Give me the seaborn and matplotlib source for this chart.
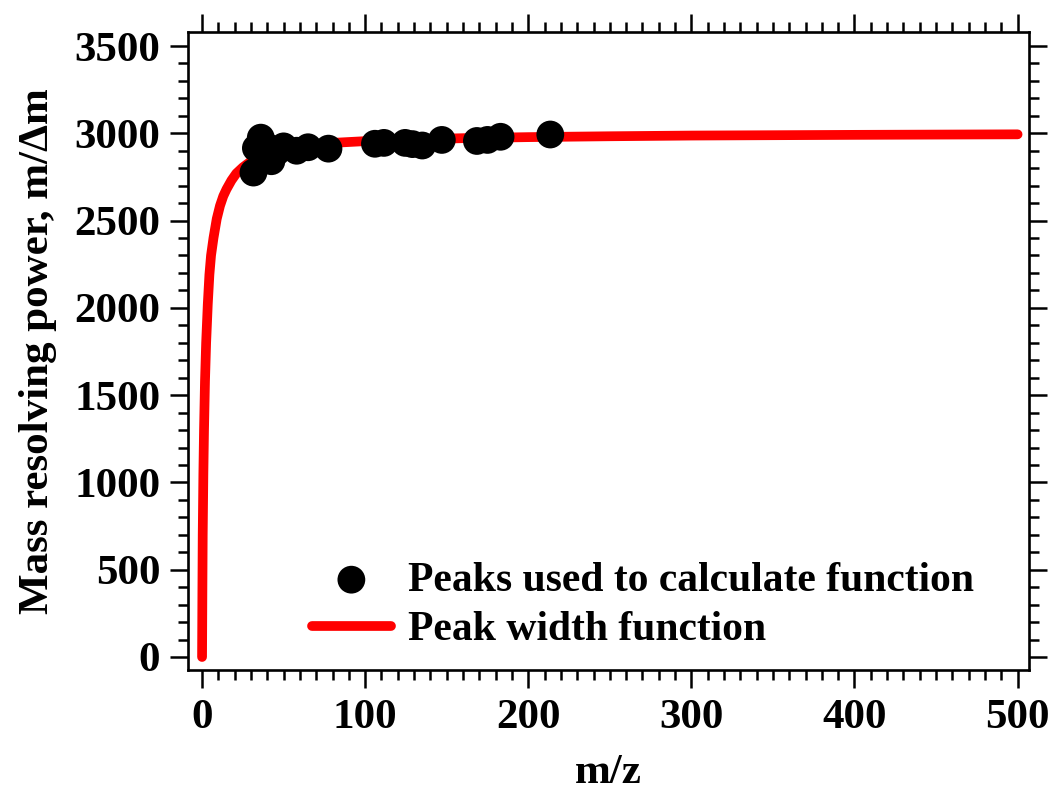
import pandas as pd
import matplotlib
matplotlib.use('Agg')
import matplotlib.pyplot as plt
from matplotlib.ticker import MultipleLocator
import seaborn as sns

# Peaks used to calculate the function (m/z, resolving power)
peak_mz = [31.5, 33, 36, 40.5, 42.5, 46, 50, 58, 65, 77.5,
           106, 111.5, 124.5, 129, 135, 147, 168.5, 175, 183, 213.5]
peak_rp = [2775, 2915, 2975, 2920, 2840, 2895, 2925, 2900, 2920, 2912,
           2940, 2945, 2945, 2938, 2930, 2962, 2956, 2962, 2980, 2993]

# Peak width function
func_mz = [0, 0.2, 0.4, 0.8, 1.2, 1.8, 2.5, 3.5, 4.5, 5.5, 7, 9, 11, 13, 15,
           18, 21, 25, 30, 35, 40, 50, 60, 80, 100, 130, 160, 200, 250, 300,
           400, 500]
func_rp = [0, 380, 700, 1050, 1300, 1580, 1800, 2020, 2190, 2300, 2400, 2510,
           2585, 2640, 2680, 2730, 2770, 2805, 2840, 2865, 2885, 2910, 2925,
           2945, 2955, 2965, 2972, 2978, 2983, 2987, 2991, 2994]

peaks = pd.DataFrame({'mz': peak_mz, 'rp': peak_rp})
func = pd.DataFrame({'mz': func_mz, 'rp': func_rp})

sns.set_style('ticks')
plt.rcParams['font.family'] = ['Liberation Serif', 'DejaVu Serif']
plt.rcParams['font.weight'] = 'bold'
plt.rcParams['axes.labelweight'] = 'bold'
plt.rcParams['text.color'] = 'black'
plt.rcParams['axes.labelcolor'] = 'black'

fig = plt.figure(figsize=(10.54, 7.93), dpi=100)
ax = fig.add_axes([0.1784, 0.155, 0.9763 - 0.1784, 0.9596 - 0.155])

sns.lineplot(data=func, x='mz', y='rp', color='#ff0000', linewidth=7,
             label='Peak width function', ax=ax, zorder=1, sort=False)
sns.scatterplot(data=peaks, x='mz', y='rp', color='black', s=400,
                edgecolor='none', label='Peaks used to calculate function',
                ax=ax, zorder=2)

ax.set_xlim(-8.6, 507)
ax.set_ylim(-75, 3580)
ax.xaxis.set_major_locator(MultipleLocator(100))
ax.xaxis.set_minor_locator(MultipleLocator(10))
ax.yaxis.set_major_locator(MultipleLocator(500))
ax.yaxis.set_minor_locator(MultipleLocator(100))

ax.tick_params(which='both', direction='out', top=True, right=True,
               width=1.8, colors='black')
ax.tick_params(which='major', length=13, labelsize=31)
ax.tick_params(which='minor', length=7)
ax.tick_params(axis='y', which='major', pad=7)
ax.tick_params(axis='x', which='major', pad=8)
for s in ax.spines.values():
    s.set_linewidth(1.9)
    s.set_color('black')

ax.set_xlabel('m/z', fontsize=31, fontweight='bold', labelpad=12)
ax.set_ylabel('Mass resolving power, m/\u0394m', fontsize=31,
              fontweight='bold', labelpad=12)

handles, labels = ax.get_legend_handles_labels()
order = [labels.index('Peaks used to calculate function'),
         labels.index('Peak width function')]
ax.legend([handles[i] for i in order], [labels[i] for i in order],
          frameon=False, fontsize=30, loc='lower left',
          bbox_to_anchor=(0.28, 0.16, 0.5, 0.1), bbox_transform=fig.transFigure,
          handlelength=1.9, handletextpad=0.4, labelspacing=0.28,
          borderaxespad=0, markerscale=1.0)

fig.savefig('out.png', dpi=100)
